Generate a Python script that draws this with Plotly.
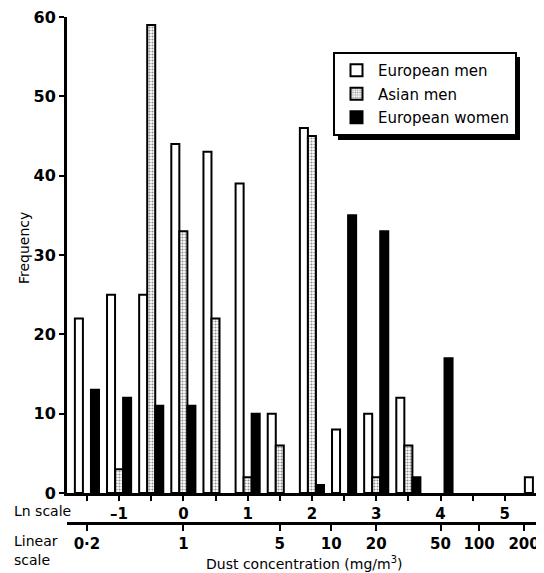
import plotly.graph_objects as go

# Bin centres on the natural-log scale (step 0.5)
ln_bins = [-1.5, -1.0, -0.5, 0.0, 0.5, 1.0, 1.5, 2.0, 2.5, 3.0, 3.5, 4.0, 4.5, 5.0, 5.5]

european_men = [22, 25, 25, 44, 43, 39, 10, 46, 8, 10, 12, 0, 0, 0, 2]
asian_men = [0, 3, 59, 33, 22, 2, 6, 45, 0, 2, 6, 0, 0, 0, 0]
european_women = [13, 12, 11, 11, 0, 10, 0, 1, 35, 33, 2, 17, 0, 0, 0]

ln_tick_vals = [-1.5, -1.0, -0.5, 0.0, 0.5, 1.0, 1.5, 2.0, 2.5, 3.0, 3.5, 4.0, 4.5, 5.0, 5.5]
ln_tick_text = ["", "–1", "", "0", "", "1", "", "2", "", "3", "", "4", "", "5", ""]

linear_tick_text = ["0·2", "1", "5", "10", "20", "50", "100", "200"]
linear_tick_pos = [-1.5, 0.0, 1.5, 2.3, 3.0, 4.0, 4.6, 5.3]  # positions on the ln axis as drawn

y_tick_vals = [0, 10, 20, 30, 40, 50, 60]

FONT = "DejaVu Sans"
OFF = 8  # page body margin
W, H = 544 - OFF, 573 - OFF
ML, MR, MT, MB = 67 - OFF, 0, 17 - OFF, 50
pw = W - ML - MR
ph = H - MT - MB


def nz(vals):
    return [v if v else None for v in vals]


def px_x(p):  # page pixel -> paper x
    return (p - OFF - ML) / pw


def px_y(p):  # page pixel -> paper y
    return (H - MB - (p - OFF)) / ph


fig = go.Figure()
line = dict(color="black", width=2)
fig.add_trace(go.Bar(x=ln_bins, y=nz(european_men), name="European men",
                     marker=dict(color="white", line=line), legendgroup="a"))
fig.add_trace(go.Bar(x=ln_bins, y=nz(asian_men), name="Asian men",
                     marker=dict(color="white", line=line,
                                 pattern=dict(shape=".", fgcolor="#222", bgcolor="white",
                                              size=3, solidity=0.4)),
                     legendgroup="b"))
fig.add_trace(go.Bar(x=ln_bins, y=nz(european_women), name="European women",
                     marker=dict(color="black", line=line), legendgroup="c"))
# invisible trace to activate the linear axis
fig.add_trace(go.Scatter(x=[linear_tick_pos[0]], y=[0], xaxis="x2", mode="markers",
                         marker=dict(opacity=0), showlegend=False, hoverinfo="skip"))

xr = [-1.81, 5.61]
ydom0 = 30 / ph

tick_font_x = dict(family=FONT, size=15, color="black", weight="bold")

fig.update_layout(
    width=W, height=H,
    margin=dict(l=ML, r=MR, t=MT, b=MB, autoexpand=False),
    paper_bgcolor="white", plot_bgcolor="white",
    barmode="group", bargap=0.25, bargroupgap=0,
    font=dict(family=FONT, color="black", size=14),
    xaxis=dict(range=xr, domain=[0, 1], anchor="y", showgrid=False, zeroline=False,
               automargin=False, ticklabeloverflow="allow",
               showline=True, linecolor="black", linewidth=3,
               tickmode="array", tickvals=ln_tick_vals, ticktext=ln_tick_text,
               ticks="outside", ticklen=5, tickwidth=2, tickcolor="black",
               tickfont=tick_font_x),
    xaxis2=dict(range=xr, overlaying="x", anchor="free", position=0, side="bottom",
                showgrid=False, zeroline=False, automargin=False,
                ticklabeloverflow="allow",
                showline=True, linecolor="black", linewidth=3,
                tickmode="array", tickvals=linear_tick_pos, ticktext=linear_tick_text,
                ticks="outside", ticklen=6, tickwidth=2, tickcolor="black",
                tickfont=tick_font_x),
    yaxis=dict(range=[0, 60], domain=[ydom0, 1], showgrid=False, zeroline=False,
               automargin=False, ticklabeloverflow="allow",
               showline=True, linecolor="black", linewidth=3,
               tickmode="array", tickvals=y_tick_vals,
               ticks="outside", ticklen=5, tickwidth=2, tickcolor="black",
               tickfont=dict(family=FONT, size=16, color="black", weight="bold")),
    legend=dict(x=px_x(333), y=px_y(52), xanchor="left", yanchor="top",
                bgcolor="white", bordercolor="black", borderwidth=2,
                font=dict(family=FONT, size=15, color="black"),
                itemwidth=33, tracegroupgap=1, itemclick=False),
    showlegend=True,
)

# legend drop shadow
fig.add_shape(type="rect", xref="paper", yref="paper",
              x0=px_x(338), x1=px_x(520), y0=px_y(140), y1=px_y(57),
              fillcolor="black", line=dict(width=0), layer="above")

ann = [
    dict(text="Frequency", x=px_x(24), y=px_y(248), textangle=-90),
    dict(text="Ln scale", x=px_x(12), y=px_y(511), xanchor="left"),
    dict(text="Linear", x=px_x(12), y=px_y(541), xanchor="left"),
    dict(text="scale", x=px_x(12), y=px_y(560), xanchor="left"),
    dict(text="Dust concentration (mg/m<sup>3</sup>)", x=px_x(304), y=px_y(563)),
]
for a in ann:
    a.setdefault("xanchor", "center")
    fig.add_annotation(xref="paper", yref="paper", showarrow=False, yanchor="middle",
                       font=dict(family=FONT, size=14, color="black"), **a)

fig.write_html("out.html")
